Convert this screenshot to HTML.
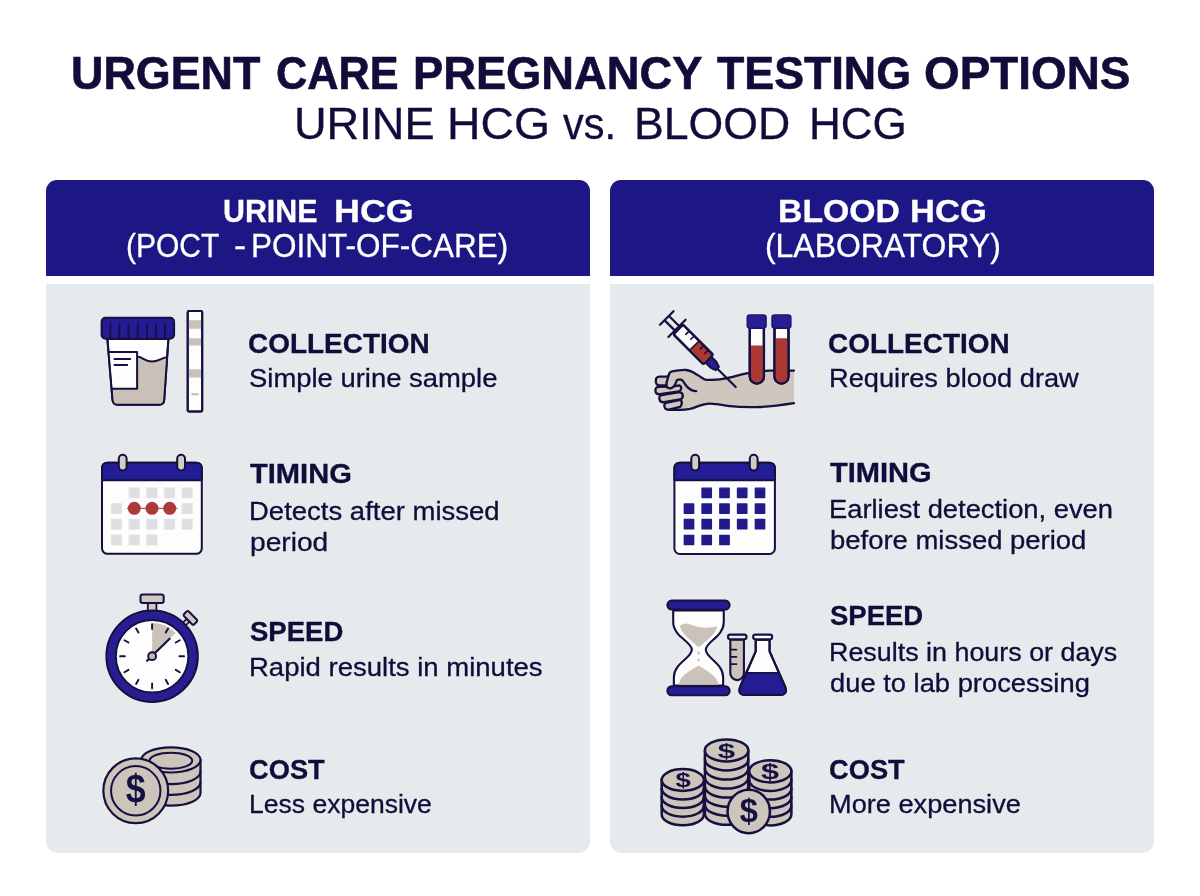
<!DOCTYPE html>
<html lang="en"><head><meta charset="utf-8"><title>Urgent Care Pregnancy Testing Options</title>
<style>
html,body{margin:0;padding:0;background:#fff}
body{width:1200px;height:896px;position:relative;overflow:hidden;font-family:"Liberation Sans",sans-serif}
.hd{position:absolute;top:180.2px;height:95.5px;background:#1d1685;border-radius:11px 11px 0 0}
.pn{position:absolute;top:284px;height:569px;background:#e7eaed;border-radius:0 0 12px 12px}
.l{left:46px;width:543.7px}
.r{left:610.3px;width:544.1px}
.t{position:absolute;white-space:nowrap;line-height:1;transform-origin:0 0;display:block}
svg.ic{position:absolute;left:0;top:0;width:1200px;height:896px}
</style></head><body>
<div class="hd l"></div><div class="hd r"></div>
<div class="pn l"></div><div class="pn r"></div>
<svg class="ic" viewBox="0 0 1200 896" fill="none" stroke-linecap="round" stroke-linejoin="round">
<!-- L1: urine cup + strip -->
<g id="cup" stroke="#15103f" stroke-width="2">
<path d="M107.4 339 L168.4 339 L164.2 400 Q163.8 404.8 159 404.8 L117.6 404.8 Q113 404.8 112.5 400 Z" fill="#fdfdfd"/>
<path d="M138 356.8 C142.5 356.8 145 361.6 152 361.6 C159 361.6 161 357.8 166.6 357.3 L163.6 399.5 Q163.2 403.8 158.8 403.8 L118 403.8 Q113.8 403.8 113.4 399.5 L112.6 389 L138 389 Z" fill="#c9c0b7" stroke="none"/>
<path d="M138 356.8 C142.5 356.8 145 361.6 152 361.6 C159 361.6 161 357.8 166.8 357.3"/>
<path d="M109.3 351.9 L137.1 351.9 L137.1 388.7 L112.6 388.7" fill="#fdfdfd"/>
<path d="M114.5 359 H130.2 M114.5 365 H127.2"/>
<path d="M107.4 339 L168.4 339 L164.2 400 Q163.8 404.8 159 404.8 L117.6 404.8 Q113 404.8 112.5 400 Z"/>
<rect x="101.6" y="317.7" width="72.5" height="21" rx="4" fill="#241c94"/>
<path d="M110.4 324.5V338 M119.3 324.5V338 M128.5 324.5V338 M137.7 324.5V338 M146.9 324.5V338 M156 324.5V338 M165 324.5V338" stroke-width="1.8"/>
<rect x="187.7" y="311" width="14.5" height="100.5" rx="1.5" fill="#fdfdfd"/>
<path d="M188.7 320.3h12.5v8.4h-12.5z M188.7 338.3h12.5v7.2h-12.5z M188.7 369.2h12.5v8.4h-12.5z" fill="#c9c0b7" stroke="none"/>
<path d="M191.5 394.2H198.6" stroke="#c9c0b7" stroke-width="2.4" stroke-linecap="butt"/>
<rect x="187.7" y="311" width="14.5" height="100.5" rx="1.5"/>
</g>
<!-- L2: calendar -->
<g transform="translate(0 0)" stroke="#15103f" stroke-width="2">
<rect x="102" y="462.7" width="99.8" height="91.1" rx="5.5" fill="#fdfdfd"/>
<path d="M102 480.2 V468.2 Q102 462.7 107.5 462.7 H196.3 Q201.8 462.7 201.8 468.2 V480.2 Z" fill="#241c94"/>
<rect x="118.8" y="454.7" width="7.8" height="15.8" rx="3.9" fill="#d3cdc6"/>
<rect x="177.2" y="454.7" width="7.8" height="15.8" rx="3.9" fill="#d3cdc6"/>
<path d="M129.4 487.9h9.9v9.9h-9.9z M147.1 487.9h9.9v9.9h-9.9z M164.7 487.9h9.9v9.9h-9.9z M182.4 487.9h9.9v9.9h-9.9z M111.6 503.6h9.9v9.9h-9.9z M182.4 503.6h9.9v9.9h-9.9z M111.6 519.3h9.9v9.9h-9.9z M129.4 519.3h9.9v9.9h-9.9z M147.1 519.3h9.9v9.9h-9.9z M164.7 519.3h9.9v9.9h-9.9z M182.4 519.3h9.9v9.9h-9.9z M111.6 535.0h9.9v9.9h-9.9z M129.4 535.0h9.9v9.9h-9.9z M147.1 535.0h9.9v9.9h-9.9z" fill="#dddfe2" stroke="#dddfe2" stroke-width="0.8" />
<path d="M127.3 508.3H177" stroke="#a03434" stroke-width="1"/>
<circle cx="134.3" cy="508.3" r="6.5" fill="#ab3b3b" stroke="none"/>
<circle cx="152" cy="508.3" r="6.5" fill="#ab3b3b" stroke="none"/>
<circle cx="169.7" cy="508.3" r="6.5" fill="#ab3b3b" stroke="none"/>
</g>
<!-- L3: stopwatch -->
<g stroke="#15103f" stroke-width="2">
<rect x="147.79999999999998" y="602.5" width="8.6" height="9" fill="#cfc8c0" stroke-width="1.8"/>
<rect x="140.5" y="594.6" width="23.2" height="8.4" rx="2.2" fill="#cfc8c0"/>
<g transform="rotate(45 152.1 656.2)"><rect x="150.1" y="605" width="4" height="6.5" fill="#cfc8c0" stroke-width="1.6"/><rect x="144.9" y="598.7" width="14.4" height="6.6" rx="1.6" fill="#cfc8c0"/></g>
<circle cx="152.1" cy="656.2" r="45.7" fill="#271f91"/>
<circle cx="152.1" cy="656.2" r="36.2" fill="#fdfdfd" stroke-width="1.8"/>
<path d="M152.1 656.2 L152.1 622.9000000000001 A33.3 33.3 0 0 1 175.65 632.65 Z" fill="#cbc3ba" stroke="none"/>
<path d="M152.10 628.90L152.10 624.20 M165.75 632.56L168.10 628.49 M175.74 642.55L179.81 640.20 M179.40 656.20L184.10 656.20 M175.74 669.85L179.81 672.20 M165.75 679.84L168.10 683.91 M152.10 683.50L152.10 688.20 M138.45 679.84L136.10 683.91 M128.46 669.85L124.39 672.20 M124.80 656.20L120.10 656.20 M128.46 642.55L124.39 640.20 M138.45 632.56L136.10 628.49" stroke-width="1.9"/>
<path d="M147.1 660.8000000000001 L169.6 638.7" stroke-width="2.2"/>
<circle cx="152.1" cy="656.2" r="3.9" fill="#c4bcb3" stroke-width="2"/>
</g>
<!-- L4: coins -->
<g stroke="#15103f" stroke-width="2.2">
<path d="M141.3 759.9 V793 A29.6 12.6 0 0 0 200.5 793 V759.9 Z" fill="#cdc5bc"/>
<path d="M141.3 771.5 A29.6 12.6 0 0 0 200.5 771.5 M141.3 782.3 A29.6 12.6 0 0 0 200.5 782.3"/>
<ellipse cx="170.9" cy="759.9" rx="29.6" ry="12.6" fill="#cdc5bc"/>
<ellipse cx="170.9" cy="760.7" rx="21.3" ry="8" fill="#cdc5bc" stroke-width="2"/>
<circle cx="135.75" cy="790.8" r="32.4" fill="#cdc5bc"/>
<circle cx="135.75" cy="790.8" r="24.7" stroke-width="2"/>
</g>
<text x="135.75" y="802" font-family="Liberation Sans, sans-serif" font-weight="700" font-size="34" fill="#15103f" text-anchor="middle" transform="translate(135.75 790.3) scale(1.05 1.21) translate(-135.75 -791.4)">$</text>
<!-- R1: arm, syringe, tubes -->
<g stroke="#15103f" stroke-width="2.3">
<path d="M794 370.6 L768 370.7 L746.4 373.4 C740 374.6 735 376.3 730.4 377.3 C725 378.5 721 379.3 716.9 379.6 C712 379.9 708 380.2 705.6 379.7 C703.5 379.2 702.5 378.2 700.9 377.1 C698 375.2 696 373.8 693.5 372.4 C691 371.1 688.5 370.2 686.1 370 C683 369.8 681 370.1 678.1 370.4 L672.1 371.4 Q670 372 669.4 373.4 L668.1 377.4 L666.7 382.1 L666.5 388 L660 391 L662 399 L666 406 L668.5 409.9 L680.1 409.9 C684 409.9 687 409.5 690.2 408.9 C693.5 408.2 696 407 698.2 406.2 C701 405.2 704 404.2 706.9 403.8 C710 403.4 713 403.8 716.9 404.2 C722 404.8 726 405.7 730 406.2 C740 407.3 748 407.3 757 407.1 C770 406.8 782 405 794 403.1 Z" fill="#cfc7be" stroke="none"/>
<path d="M794 370.6 L768 370.7 L746.4 373.4 C740 374.6 735 376.3 730.4 377.3 C725 378.5 721 379.3 716.9 379.6 C712 379.9 708 380.2 705.6 379.7 C703.5 379.2 702.5 378.2 700.9 377.1 C698 375.2 696 373.8 693.5 372.4 C691 371.1 688.5 370.2 686.1 370 C683 369.8 681 370.1 678.1 370.4 L672.1 371.4 Q670 372 669.4 373.4 L668.1 377.4 L666.7 382.1"/>
<path d="M668.5 409.9 L680.1 409.9 C684 409.9 687 409.5 690.2 408.9 C693.5 408.2 696 407 698.2 406.2 C701 405.2 704 404.2 706.9 403.8 C710 403.4 713 403.8 716.9 404.2 C722 404.8 726 405.7 730 406.2 C740 407.3 748 407.3 757 407.1 C770 406.8 782 405 794 403.1"/>
<path d="M666 402.8 L680.1 399.9 Q682.2 401 681.8 403.2 Q681.6 405.8 680.1 406.9 L669 409.6 Q665 410 664.4 406.4 Q664 403.4 666 402.8 Z" fill="#cfc7be"/>
<path d="M661.5 395 L679.5 392.1 Q683 393 682.8 396.1 Q682.6 398.8 680.1 399.5 L664 402.2 Q660 402.6 659.4 399 Q659 395.6 661.5 395 Z" fill="#cfc7be"/>
<path d="M659 386.8 L672 386.6 L679.5 385.4 Q681.6 386.5 681.1 388.6 Q680.8 390.8 678.8 391.5 L660 394.2 Q655.6 394.6 655.4 390.6 Q655.3 386.9 659 386.8 Z" fill="#cfc7be"/>
<path d="M668.5 376.7 L659.5 376.7 Q655.8 376.9 655.8 380.9 Q655.8 385.2 659.5 385.3 L668 385.5 Z" fill="#cfc7be"/>
<path d="M669.4 373.4 L668.1 377.4 L666.7 382.1 Q665.8 386 667.5 387.6 Q670 389 672.5 387.6 Q675.5 385.5 676.3 381.5 Q676.6 379.7 678 379.7 L681 379.7 Q682.8 380.2 684.1 382.8 Q687 388 691.5 390.1 Q694 391 696.2 391.1 L690 376 L678 372 Z" fill="#cfc7be" stroke="none"/>
<path d="M669.4 373.4 L668.1 377.4 L666.7 382.1 Q665.8 386 667.5 387.6 Q670 389 672.5 387.6 Q675.5 385.5 676.3 381.5 Q676.6 379.7 678 379.7 L681 379.7 Q682.8 380.2 684.1 382.8 Q687 388 691.5 390.1 Q694 391 696.2 391.1"/>
<g transform="translate(735.7 387) rotate(-45)">
<path d="M0 0 V-27" stroke-width="2.2"/>
<path d="M-2.4 -26 L2.4 -26 L4.2 -31.5 L4.2 -39 L-4.2 -39 L-4.2 -31.5 Z" fill="#271f91" stroke-width="1.8"/>
<rect x="-6.8" y="-81.4" width="13.6" height="42.6" rx="2" fill="#fdfdfd"/>
<path d="M-5.9 -58.5 H5.9 V-41.5 Q5.9 -39.8 4.2 -39.8 H-4.2 Q-5.9 -39.8 -5.9 -41.5 Z" fill="#ad3733" stroke="none"/>
<path d="M-6.6 -58.5 H6.6" stroke-width="1.6"/>
<path d="M6.6 -45.5 H2 M6.6 -52 H2 M6.6 -65.5 H2 M6.6 -72.5 H2" stroke-width="1.7"/>
<rect x="-6.8" y="-81.4" width="13.6" height="42.6" rx="2"/>
<path d="M-12.2 -83 H12.2 M-3.1 -83.5 V-97 M3.1 -83.5 V-97 M-9.6 -97.5 H9.6" stroke-width="2.2"/>
</g>
<path d="M749.8 327 V376.55 A7.050000000000011 7.050000000000011 0 0 0 763.9 376.55 V327 Z" fill="#fdfdfd"/>
<path d="M750.8 345.6 V376.55 A6.050000000000011 6.050000000000011 0 0 0 762.9 376.55 V345.6 Z" fill="#ad3733" stroke="none"/>
<path d="M749.8 327 V376.55 A7.050000000000011 7.050000000000011 0 0 0 763.9 376.55 V327"/>
<path d="M774.5 327 V376.6 A7.0 7.0 0 0 0 788.5 376.6 V327 Z" fill="#fdfdfd"/>
<path d="M775.5 338.2 V376.6 A6.0 6.0 0 0 0 787.5 376.6 V338.2 Z" fill="#ad3733" stroke="none"/>
<path d="M774.5 327 V376.6 A7.0 7.0 0 0 0 788.5 376.6 V327"/>
<rect x="747.2" y="314.9" width="18.9" height="13.3" rx="2.6" fill="#271f91" stroke="#1a1470" stroke-width="1.4"/>
<rect x="772" y="314.9" width="18.9" height="13.3" rx="2.6" fill="#271f91" stroke="#1a1470" stroke-width="1.4"/>
</g>
<!-- R2: calendar -->
<g stroke="#15103f" stroke-width="2">
<rect x="674.4" y="462.7" width="100.5" height="91.3" rx="5.5" fill="#fdfdfd"/>
<path d="M674.4 480.2 V468.2 Q674.4 462.7 679.9 462.7 H769.4 Q774.9 462.7 774.9 468.2 V480.2 Z" fill="#241c94"/>
<rect x="691.3" y="454.7" width="7.8" height="15.8" rx="3.9" fill="#d3cdc6"/>
<rect x="749.8" y="454.7" width="7.8" height="15.8" rx="3.9" fill="#d3cdc6"/>
<path d="M702.0 488.20000000000005h9.4v9.4h-9.4z M719.8000000000001 488.20000000000005h9.4v9.4h-9.4z M737.5 488.20000000000005h9.4v9.4h-9.4z M755.3000000000001 488.20000000000005h9.4v9.4h-9.4z M684.3000000000001 503.90000000000003h9.4v9.4h-9.4z M702.0 503.90000000000003h9.4v9.4h-9.4z M719.8000000000001 503.90000000000003h9.4v9.4h-9.4z M737.5 503.90000000000003h9.4v9.4h-9.4z M755.3000000000001 503.90000000000003h9.4v9.4h-9.4z M684.3000000000001 519.5h9.4v9.4h-9.4z M702.0 519.5h9.4v9.4h-9.4z M719.8000000000001 519.5h9.4v9.4h-9.4z M737.5 519.5h9.4v9.4h-9.4z M755.3000000000001 519.5h9.4v9.4h-9.4z M684.3000000000001 535.3000000000001h9.4v9.4h-9.4z M702.0 535.3000000000001h9.4v9.4h-9.4z M719.8000000000001 535.3000000000001h9.4v9.4h-9.4z" fill="#221a8c" stroke="#221a8c" stroke-width="1.3"/>
</g>
<!-- R3: hourglass, tube, flask -->
<g stroke="#15103f" stroke-width="2.1">
<path d="M673.22 610.53 L673.22 622.08 C673.22 636.84 691.82 641.33 691.82 649.67 C691.82 658.01 673.86 663.14 673.86 677.26 L673.86 685.6 L723.13 685.6 L723.13 677.26 C723.13 663.14 705.81 658.01 705.81 649.67 C705.81 641.33 723.78 636.84 723.78 622.08 L723.78 610.53 Z" fill="#fdfdfd"/>
<path d="M679.89 625.67 C683.74 622.72 688.87 623.62 692.72 625.29 C698.5 627.85 708.76 628.5 717.1 626.31 C716.46 633.63 707.48 639.4 702.35 644.54 L698.5 647.1 L695.29 644.54 C690.16 639.4 681.17 633.63 679.89 625.67 Z" fill="#cbc3ba" stroke="none"/>
<path d="M678.99 684.7 C679.25 675.33 691.44 670.2 698.5 665.45 C705.55 670.2 717.74 675.33 718.51 684.7 Z" fill="#cbc3ba" stroke="none"/>
<circle cx="698.5" cy="653.01" r="1.4" fill="#cbc3ba" stroke="none"/><circle cx="698.5" cy="660.06" r="1.4" fill="#cbc3ba" stroke="none"/>
<rect x="667.44" y="600.65" width="62.11" height="8.85" rx="4.2" fill="#241c94"/>
<rect x="667.44" y="686.24" width="62.11" height="8.98" rx="4.2" fill="#241c94"/>
<path d="M730.32 639.79 V673.28 A6.80 6.80 0 0 0 743.92 673.28 V639.79 Z" fill="#cbc3ba"/>
<path d="M730.83 649.67H736.35 M730.83 656.85H736.35 M730.83 664.17H736.35" stroke-width="1.9"/>
<rect x="728.01" y="634.66" width="18.48" height="4.61" rx="2.2" fill="#ebe8ee"/>
<path d="M755.73 639.79 L755.73 651.34 L740.84 685.21 Q736.48 694.84 745.72 694.84 L779.59 694.84 Q788.83 694.84 784.47 685.21 L769.59 651.34 L769.59 639.79 Z" fill="#fdfdfd"/>
<path d="M746.74 672.89 L741.36 685.21 Q737.51 694.07 745.72 694.07 L779.59 694.07 Q787.81 694.07 783.96 685.21 L778.57 672.89 Z" fill="#241c94" stroke="none"/>
<path d="M746.74 672.89 L778.57 672.89" stroke-width="1.6"/>
<path d="M755.73 639.79 L755.73 651.34 L740.84 685.21 Q736.48 694.84 745.72 694.84 L779.59 694.84 Q788.83 694.84 784.47 685.21 L769.59 651.34 L769.59 639.79 Z"/>
<rect x="753.16" y="634.66" width="18.99" height="4.61" rx="2.2" fill="#fdfdfd"/>
</g>
<!-- R4: coin stacks -->
<g stroke="#15103f" stroke-width="2.5">
<path d="M704.9 750.4 V813.75 A21.7 11 0 0 0 748.3000000000001 813.75 V750.4 Z" fill="#cdc5bc"/>
<path d="M704.9 759.45 A21.7 11 0 0 0 748.3000000000001 759.45 M704.9 768.50 A21.7 11 0 0 0 748.3000000000001 768.50 M704.9 777.55 A21.7 11 0 0 0 748.3000000000001 777.55 M704.9 786.60 A21.7 11 0 0 0 748.3000000000001 786.60 M704.9 795.65 A21.7 11 0 0 0 748.3000000000001 795.65 M704.9 804.70 A21.7 11 0 0 0 748.3000000000001 804.70"/>
<ellipse cx="726.6" cy="750.4" rx="21.7" ry="11" fill="#cdc5bc"/>
<path d="M661.6999999999999 780 V814.40 A21.1 10.9 0 0 0 703.9 814.40 V780 Z" fill="#cdc5bc"/>
<path d="M661.6999999999999 788.60 A21.1 10.9 0 0 0 703.9 788.60 M661.6999999999999 797.20 A21.1 10.9 0 0 0 703.9 797.20 M661.6999999999999 805.80 A21.1 10.9 0 0 0 703.9 805.80"/>
<ellipse cx="682.8" cy="780" rx="21.1" ry="10.9" fill="#cdc5bc"/>
<path d="M749.1999999999999 771.3 V814.30 A21.1 11.1 0 0 0 791.4 814.30 V771.3 Z" fill="#cdc5bc"/>
<path d="M749.1999999999999 779.90 A21.1 11.1 0 0 0 791.4 779.90 M749.1999999999999 788.50 A21.1 11.1 0 0 0 791.4 788.50 M749.1999999999999 797.10 A21.1 11.1 0 0 0 791.4 797.10 M749.1999999999999 805.70 A21.1 11.1 0 0 0 791.4 805.70"/>
<ellipse cx="770.3" cy="771.3" rx="21.1" ry="11.1" fill="#cdc5bc"/>
<ellipse cx="748.75" cy="811.5" rx="21.2" ry="21.7" fill="#cdc5bc"/>
</g>
<text font-family="Liberation Sans, sans-serif" font-weight="700" font-size="20" fill="#15103f" text-anchor="middle" transform="translate(726.5 751.9) scale(1.560 1.034)" x="0" y="6.20">$</text>
<text font-family="Liberation Sans, sans-serif" font-weight="700" font-size="20" fill="#15103f" text-anchor="middle" transform="translate(683.1 780.6) scale(1.380 1.028)" x="0" y="6.20">$</text>
<text font-family="Liberation Sans, sans-serif" font-weight="700" font-size="20" fill="#15103f" text-anchor="middle" transform="translate(770 772.1) scale(1.620 1.072)" x="0" y="6.20">$</text>
<text font-family="Liberation Sans, sans-serif" font-weight="700" font-size="26" fill="#15103f" text-anchor="middle" transform="translate(748.75 811.3) scale(1.254 1.284)" x="0" y="8.06">$</text>
</svg>

<span class="t" style="left:70.75px;top:50px;font-size:46.1px;font-weight:700;color:#110c3a;-webkit-text-stroke:0.6px #110c3a;transform:scaleX(0.9732)">URGENT</span>
<span class="t" style="left:275.76px;top:50px;font-size:46.1px;font-weight:700;color:#110c3a;-webkit-text-stroke:0.6px #110c3a;transform:scaleX(0.9385)">CARE</span>
<span class="t" style="left:413.05px;top:50px;font-size:46.1px;font-weight:700;color:#110c3a;-webkit-text-stroke:0.6px #110c3a;transform:scaleX(0.9825)">PREGNANCY</span>
<span class="t" style="left:716.90px;top:50px;font-size:46.1px;font-weight:700;color:#110c3a;-webkit-text-stroke:0.6px #110c3a;transform:scaleX(0.9711)">TESTING</span>
<span class="t" style="left:924.01px;top:50px;font-size:46.1px;font-weight:700;color:#110c3a;-webkit-text-stroke:0.6px #110c3a;transform:scaleX(0.9946)">OPTIONS</span>
<span class="t" style="left:293.59px;top:103px;font-size:43.6px;font-weight:400;color:#110c3a;-webkit-text-stroke:0.3px #110c3a;transform:scaleX(1.0360)">URINE</span>
<span class="t" style="left:446.81px;top:103px;font-size:43.6px;font-weight:400;color:#110c3a;-webkit-text-stroke:0.3px #110c3a;transform:scaleX(1.0631)">HCG</span>
<span class="t" style="left:563.30px;top:103px;font-size:43.6px;font-weight:400;color:#110c3a;-webkit-text-stroke:0.3px #110c3a;transform:scaleX(0.9507)">vs.</span>
<span class="t" style="left:633.63px;top:103px;font-size:43.6px;font-weight:400;color:#110c3a;-webkit-text-stroke:0.3px #110c3a;transform:scaleX(1.0234)">BLOOD</span>
<span class="t" style="left:809.47px;top:103px;font-size:43.6px;font-weight:400;color:#110c3a;-webkit-text-stroke:0.3px #110c3a;transform:scaleX(1.0103)">HCG</span>
<span class="t" style="left:223.04px;top:196px;font-size:31.5px;font-weight:700;color:#fff;-webkit-text-stroke:0.3px #fff;transform:scaleX(0.9636)">URINE</span>
<span class="t" style="left:333.72px;top:196px;font-size:31.5px;font-weight:700;color:#fff;-webkit-text-stroke:0.3px #fff;transform:scaleX(1.1399)">HCG</span>
<span class="t" style="left:125.66px;top:230px;font-size:32.7px;font-weight:400;color:#fff;-webkit-text-stroke:0.3px #fff;transform:scaleX(0.9176)">(POCT</span>
<span class="t" style="left:233.89px;top:230px;font-size:32.7px;font-weight:400;color:#fff;-webkit-text-stroke:0.3px #fff;transform:scaleX(1.1111)">-</span>
<span class="t" style="left:250.57px;top:230px;font-size:32.7px;font-weight:400;color:#fff;-webkit-text-stroke:0.3px #fff;transform:scaleX(0.9637)">POINT-OF-CARE)</span>
<span class="t" style="left:778.36px;top:196px;font-size:31.5px;font-weight:700;color:#fff;-webkit-text-stroke:0.3px #fff;transform:scaleX(1.0721)">BLOOD</span>
<span class="t" style="left:910.30px;top:196px;font-size:31.5px;font-weight:700;color:#fff;-webkit-text-stroke:0.3px #fff;transform:scaleX(1.0978)">HCG</span>
<span class="t" style="left:764.55px;top:230px;font-size:32.7px;font-weight:400;color:#fff;-webkit-text-stroke:0.3px #fff;transform:scaleX(0.9760)">(LABORATORY)</span>
<span class="t" style="left:248.30px;top:330px;font-size:27.9px;font-weight:700;color:#110c3a;-webkit-text-stroke:0.3px #110c3a;transform:scaleX(1.0020)">COLLECTION</span>
<span class="t" style="left:248.76px;top:365px;font-size:26.3px;font-weight:400;color:#110c3a;-webkit-text-stroke:0.3px #110c3a;transform:scaleX(1.0426)">Simple urine sample</span>
<span class="t" style="left:250.10px;top:460px;font-size:27.2px;font-weight:700;color:#110c3a;-webkit-text-stroke:0.3px #110c3a;transform:scaleX(1.0703)">TIMING</span>
<span class="t" style="left:249.10px;top:498px;font-size:26.2px;font-weight:400;color:#110c3a;-webkit-text-stroke:0.3px #110c3a;transform:scaleX(1.0501)">Detects after missed</span>
<span class="t" style="left:250.12px;top:529px;font-size:26.2px;font-weight:400;color:#110c3a;-webkit-text-stroke:0.3px #110c3a;transform:scaleX(1.0750)">period</span>
<span class="t" style="left:250.10px;top:618px;font-size:27.2px;font-weight:700;color:#110c3a;-webkit-text-stroke:0.3px #110c3a;transform:scaleX(1.0116)">SPEED</span>
<span class="t" style="left:249.08px;top:654px;font-size:26.0px;font-weight:400;color:#110c3a;-webkit-text-stroke:0.3px #110c3a;transform:scaleX(1.0582)">Rapid results in minutes</span>
<span class="t" style="left:249.12px;top:756px;font-size:27.9px;font-weight:700;color:#110c3a;-webkit-text-stroke:0.3px #110c3a;transform:scaleX(0.9773)">COST</span>
<span class="t" style="left:249.16px;top:791px;font-size:26.0px;font-weight:400;color:#110c3a;-webkit-text-stroke:0.3px #110c3a;transform:scaleX(1.0200)">Less expensive</span>
<span class="t" style="left:828.30px;top:330px;font-size:27.9px;font-weight:700;color:#110c3a;-webkit-text-stroke:0.3px #110c3a;transform:scaleX(1.0020)">COLLECTION</span>
<span class="t" style="left:828.60px;top:366px;font-size:25.9px;font-weight:400;color:#110c3a;-webkit-text-stroke:0.3px #110c3a;transform:scaleX(1.0519)">Requires blood draw</span>
<span class="t" style="left:830.10px;top:460px;font-size:27.0px;font-weight:700;color:#110c3a;-webkit-text-stroke:0.3px #110c3a;transform:scaleX(1.0761)">TIMING</span>
<span class="t" style="left:828.57px;top:497px;font-size:25.6px;font-weight:400;color:#110c3a;-webkit-text-stroke:0.3px #110c3a;transform:scaleX(1.0673)">Earliest detection, even</span>
<span class="t" style="left:829.64px;top:528px;font-size:25.9px;font-weight:400;color:#110c3a;-webkit-text-stroke:0.3px #110c3a;transform:scaleX(1.0603)">before missed period</span>
<span class="t" style="left:830.10px;top:603px;font-size:27.0px;font-weight:700;color:#110c3a;-webkit-text-stroke:0.3px #110c3a;transform:scaleX(1.0172)">SPEED</span>
<span class="t" style="left:828.60px;top:640px;font-size:25.6px;font-weight:400;color:#110c3a;-webkit-text-stroke:0.3px #110c3a;transform:scaleX(1.0499)">Results in hours or days</span>
<span class="t" style="left:829.64px;top:671px;font-size:25.9px;font-weight:400;color:#110c3a;-webkit-text-stroke:0.3px #110c3a;transform:scaleX(1.0557)">due to lab processing</span>
<span class="t" style="left:829.12px;top:756px;font-size:27.9px;font-weight:700;color:#110c3a;-webkit-text-stroke:0.3px #110c3a;transform:scaleX(0.9773)">COST</span>
<span class="t" style="left:828.61px;top:791px;font-size:26.0px;font-weight:400;color:#110c3a;-webkit-text-stroke:0.3px #110c3a;transform:scaleX(1.0454)">More expensive</span>
</body></html>
